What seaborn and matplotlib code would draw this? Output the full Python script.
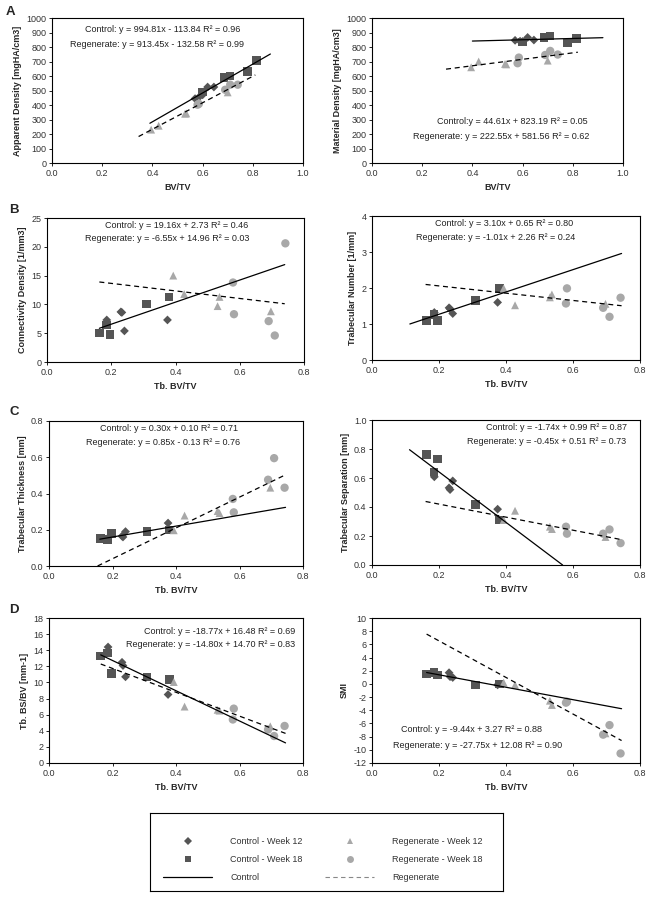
import numpy as np
import pandas as pd
import matplotlib
matplotlib.use("Agg")
import matplotlib.pyplot as plt
from matplotlib.lines import Line2D
import seaborn as sns

sns.set_theme(style="white")
plt.rcParams['font.family'] = ['Liberation Sans', 'DejaVu Sans']
plt.rcParams['font.size'] = 6

groups = ["Control - Week 12", "Control - Week 18", "Regenerate - Week 12", "Regenerate - Week 18"]
ctrl_color = "#555555"
regen_color = "#a8a8a8"

# --- panel A: BV/TV
a_x_c12 = [0.57, 0.59, 0.60, 0.62, 0.645]
a_x_c18 = [0.60, 0.685, 0.71, 0.78, 0.815]
a_x_r12 = [0.395, 0.425, 0.53, 0.535, 0.70]
a_x_r18 = [0.58, 0.585, 0.69, 0.71, 0.74]
app_c12 = [444, 462, 470, 524, 524]
app_c18 = [490, 588, 600, 632, 705]
app_r12 = [230, 257, 340, 342, 487]
app_r18 = [402, 408, 505, 540, 540]
mat_c12 = [846, 840, 838, 866, 848]
mat_c18 = [835, 866, 875, 828, 857]
mat_r12 = [660, 700, 683, 680, 706]
mat_r18 = [688, 727, 745, 773, 748]

# --- panels B-D: Tb. BV/TV
x_c12 = [0.186, 0.230, 0.233, 0.241, 0.375]
x_c18 = [0.163, 0.185, 0.196, 0.309, 0.380]
x_r12 = [0.393, 0.427, 0.531, 0.537, 0.697]
x_r18 = [0.579, 0.582, 0.690, 0.709, 0.742]
conn_c12 = [7.3, 8.7, 8.6, 5.4, 7.3]
conn_c18 = [5.0, 6.4, 4.8, 10.1, 11.3]
conn_r12 = [15.0, 11.8, 9.7, 11.3, 8.8]
conn_r18 = [13.8, 8.3, 7.1, 4.6, 20.6]
tbn_c12 = [1.32, 1.45, 1.42, 1.29, 1.60]
tbn_c18 = [1.09, 1.27, 1.09, 1.65, 1.99]
tbn_r12 = [1.99, 1.52, 1.74, 1.82, 1.56]
tbn_r18 = [1.57, 1.99, 1.45, 1.20, 1.73]
tbth_c12 = [0.155, 0.165, 0.160, 0.190, 0.237]
tbth_c18 = [0.152, 0.146, 0.180, 0.190, 0.198]
tbth_r12 = [0.197, 0.278, 0.303, 0.292, 0.432]
tbth_r18 = [0.370, 0.296, 0.476, 0.595, 0.432]
tbsp_c12 = [0.608, 0.532, 0.520, 0.580, 0.385]
tbsp_c18 = [0.764, 0.642, 0.732, 0.417, 0.310]
tbsp_r12 = [0.310, 0.374, 0.264, 0.248, 0.193]
tbsp_r18 = [0.264, 0.216, 0.216, 0.245, 0.151]
bsbv_c12 = [14.4, 12.5, 12.1, 10.7, 8.5]
bsbv_c18 = [13.3, 13.65, 11.1, 10.7, 10.35]
bsbv_r12 = [10.05, 7.0, 6.6, 6.5, 4.55]
bsbv_r18 = [5.4, 6.75, 4.15, 3.35, 4.6]
smi_c12 = [1.5, 1.7, 1.1, 0.97, -0.15]
smi_c18 = [1.52, 1.73, 1.37, -0.15, 0.0]
smi_r12 = [0.2, -0.15, -2.55, -3.2, -7.5]
smi_r18 = [-2.85, -2.7, -7.7, -6.25, -10.55]

# trendlines: slope, intercept, x range (control, regenerate)
fit_app = [(994.81, -113.84, 0.39, 0.87), (913.45, -132.58, 0.345, 0.81)]
fit_mat = [(44.61, 823.19, 0.40, 0.92), (222.55, 581.56, 0.295, 0.82)]
fit_conn = [(19.16, 2.73, 0.163, 0.74), (-6.55, 14.96, 0.163, 0.74)]
fit_tbn = [(3.10, 0.65, 0.113, 0.745), (-1.01, 2.26, 0.16, 0.745)]
fit_tbth = [(0.30, 0.10, 0.16, 0.745), (0.85, -0.13, 0.153, 0.745)]
fit_tbsp = [(-1.74, 0.99, 0.112, 0.569), (-0.45, 0.51, 0.16, 0.745)]
fit_bsbv = [(-18.77, 16.48, 0.163, 0.745), (-14.80, 14.70, 0.163, 0.745)]
fit_smi = [(-9.44, 3.27, 0.163, 0.745), (-27.75, 12.08, 0.163, 0.745)]

W, H = 654, 899
fig = plt.figure(figsize=(W / 100, H / 100), dpi=100)


def box(l, t, r, b):
    return [l / W, 1 - b / H, (r - l) / W, (b - t) / H]


palette = dict(zip(groups, [ctrl_color, ctrl_color, regen_color, regen_color]))
markers = dict(zip(groups, ["D", "s", "^", "o"]))
sizes = dict(zip(groups, [20, 38, 32, 36]))


def panel(rect, xs, ys, fits, xlim, ylim, xstep, ystep, xlabel, ylabel,
          texts, tpos, ha="center", yfmt="{:.0f}"):
    ax = fig.add_axes(box(*rect))
    df = pd.DataFrame({
        "x": np.concatenate(xs),
        "y": np.concatenate(ys),
        "group": np.repeat(groups, [len(v) for v in xs]),
    })
    sns.scatterplot(data=df, x="x", y="y", hue="group", style="group", size="group",
                    palette=palette, markers=markers, sizes=sizes, linewidth=0,
                    legend=False, ax=ax, zorder=2)
    for (m, b, x0, x1), ls in zip(fits, ["-", "--"]):
        xl = np.array([x0, x1])
        ax.plot(xl, m * xl + b, color="black", lw=0.9, ls=ls,
                dashes=(4, 3) if ls == "--" else (None, None), zorder=3)
    ax.set_xlim(*xlim)
    ax.set_ylim(*ylim)
    ax.set_xticks(np.arange(xlim[0], xlim[1] + 1e-9, xstep))
    ax.set_xticklabels([f"{v:.1f}" for v in ax.get_xticks()])
    ax.set_yticks(np.arange(ylim[0], ylim[1] + 1e-9, ystep))
    ax.set_yticklabels([yfmt.format(v) for v in ax.get_yticks()])
    ax.tick_params(labelsize=6.5, colors="#333333", length=2, width=0.6, pad=2,
                   left=True, bottom=True)
    ax.tick_params(axis="both", color="black")
    for s in ax.spines.values():
        s.set_color("black")
        s.set_linewidth(0.8)
    ax.set_xlabel(xlabel, fontsize=6.5, fontweight="bold", labelpad=4)
    ax.set_ylabel(ylabel, fontsize=6.5, fontweight="bold", labelpad=3)
    for t, (px, py) in zip(texts, tpos):
        ax.text(px, py, t, transform=ax.transAxes, ha=ha, va="center",
                fontsize=6.5, color="#222222")
    return ax


panel((52, 18, 303, 163), [a_x_c12, a_x_c18, a_x_r12, a_x_r18],
      [app_c12, app_c18, app_r12, app_r18], fit_app, (0, 1.0), (0, 1000), 0.2, 100,
      "BV/TV", "Apparent Density [mgHA/cm3]",
      ["Control: y = 994.81x - 113.84 R² = 0.96", "Regenerate: y = 913.45x - 132.58 R² = 0.99"],
      [(0.44, 0.924), (0.42, 0.814)])
panel((372, 18, 623, 163), [a_x_c12, a_x_c18, a_x_r12, a_x_r18],
      [mat_c12, mat_c18, mat_r12, mat_r18], fit_mat, (0, 1.0), (0, 1000), 0.2, 100,
      "BV/TV", "Material Density [mgHA/cm3]",
      ["Control:y = 44.61x + 823.19 R² = 0.05", "Regenerate: y = 222.55x + 581.56 R² = 0.62"],
      [(0.56, 0.283), (0.515, 0.18)])
panel((47, 218, 304, 362), [x_c12, x_c18, x_r12, x_r18],
      [conn_c12, conn_c18, conn_r12, conn_r18], fit_conn, (0, 0.8), (0, 25), 0.2, 5,
      "Tb. BV/TV", "Connectivity Density [1/mm3]",
      ["Control: y = 19.16x + 2.73 R² = 0.46", "Regenerate: y = -6.55x + 14.96 R² = 0.03"],
      [(0.505, 0.95), (0.467, 0.86)])
panel((372, 216, 640, 360), [x_c12, x_c18, x_r12, x_r18],
      [tbn_c12, tbn_c18, tbn_r12, tbn_r18], fit_tbn, (0, 0.8), (0, 4), 0.2, 1,
      "Tb. BV/TV", "Trabecular Number [1/mm]",
      ["Control: y = 3.10x + 0.65 R² = 0.80", "Regenerate: y = -1.01x + 2.26 R² = 0.24"],
      [(0.494, 0.95), (0.461, 0.854)])
panel((49, 421, 303, 566), [x_c12, x_c18, x_r12, x_r18],
      [tbth_c12, tbth_c18, tbth_r12, tbth_r18], fit_tbth, (0, 0.8), (0, 0.8), 0.2, 0.2,
      "Tb. BV/TV", "Trabecular Thickness [mm]",
      ["Control: y = 0.30x + 0.10 R² = 0.71", "Regenerate: y = 0.85x - 0.13 R² = 0.76"],
      [(0.472, 0.95), (0.449, 0.855)], yfmt="{:.1f}")
panel((372, 420, 640, 565), [x_c12, x_c18, x_r12, x_r18],
      [tbsp_c12, tbsp_c18, tbsp_r12, tbsp_r18], fit_tbsp, (0, 0.8), (0, 1.0), 0.2, 0.2,
      "Tb. BV/TV", "Trabecular Separation [mm]",
      ["Control: y = -1.74x + 0.99 R² = 0.87", "Regenerate: y = -0.45x + 0.51 R² = 0.73"],
      [(0.95, 0.945), (0.95, 0.855)], ha="right", yfmt="{:.1f}")
panel((49, 618, 303, 763), [x_c12, x_c18, x_r12, x_r18],
      [bsbv_c12, bsbv_c18, bsbv_r12, bsbv_r18], fit_bsbv, (0, 0.8), (0, 18), 0.2, 2,
      "Tb. BV/TV", "Tb. BS/BV [mm-1]",
      ["Control: y = -18.77x + 16.48 R² = 0.69", "Regenerate: y = -14.80x + 14.70 R² = 0.83"],
      [(0.97, 0.91), (0.97, 0.814)], ha="right")
panel((372, 618, 640, 763), [x_c12, x_c18, x_r12, x_r18],
      [smi_c12, smi_c18, smi_r12, smi_r18], fit_smi, (0, 0.8), (-12, 10), 0.2, 2,
      "Tb. BV/TV", "SMI",
      ["Control: y = -9.44x + 3.27 R² = 0.88", "Regenerate: y = -27.75x + 12.08 R² = 0.90"],
      [(0.372, 0.228), (0.395, 0.124)])

for letter, (px, py) in zip("ABCD", [(10, 12), (14, 210), (14, 412), (14, 610)]):
    fig.text(px / W, 1 - py / H, letter, fontsize=9.5, fontweight="bold",
             ha="center", va="center")

# legend box
axl = fig.add_axes(box(150, 813, 503, 891))
axl.set_xticks([])
axl.set_yticks([])
for s in axl.spines.values():
    s.set_color("black")
    s.set_linewidth(0.8)
handles = [
    Line2D([], [], ls="none", marker="D", ms=4, color=ctrl_color, mew=0),
    Line2D([], [], ls="none", marker="s", ms=5, color=ctrl_color, mew=0),
    Line2D([], [], color="black", lw=0.9),
    Line2D([], [], ls="none", marker="^", ms=5, color=regen_color, mew=0),
    Line2D([], [], ls="none", marker="o", ms=5, color=regen_color, mew=0),
    Line2D([], [], color="#888888", lw=0.8, ls="--", dashes=(4, 3)),
]
labels = ["Control - Week 12", "Control - Week 18", "Control",
          "Regenerate - Week 12", "Regenerate - Week 18", "Regenerate"]
axl.legend(handles, labels, ncol=2, loc="center", bbox_to_anchor=(0.49, 0.40),
           frameon=False, fontsize=6.5, handlelength=5.4, handletextpad=2.0,
           columnspacing=2.5, labelspacing=1.0, labelcolor="#333333")

fig.savefig("out.png", dpi=100)
